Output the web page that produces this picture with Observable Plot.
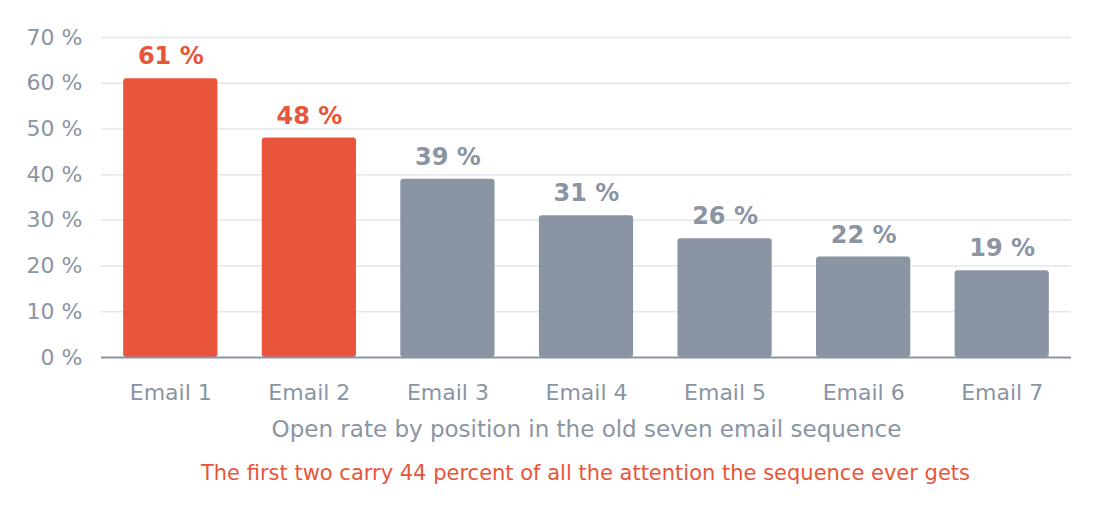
<!DOCTYPE html>
<html>
<head>
<meta charset="utf-8">
<script src="https://cdn.jsdelivr.net/npm/d3@7"></script>
<script src="https://cdn.jsdelivr.net/npm/@observablehq/plot@0.6"></script>
<style>
  html, body { margin: 0; padding: 0; background: #fff; }
  #wrap { width: 1099px; font-family: "DejaVu Sans", sans-serif; }
  #caption { text-align: center; color: #E8553A; font-size: 21px; margin-top: 11px; padding-left: 72px; }
</style>
</head>
<body>
<div id="wrap"></div>
<script>
const emails = ["Email 1", "Email 2", "Email 3", "Email 4", "Email 5", "Email 6", "Email 7"];
const openRates = [61, 48, 39, 31, 26, 22, 19];
const highlighted = [true, true, false, false, false, false, false];
const yTicks = [0, 10, 20, 30, 40, 50, 60, 70];
const xLabel = "Open rate by position in the old seven email sequence";
const captionText = "The first two carry 44 percent of all the attention the sequence ever gets";

const RED = "#E8553A", GREY = "#8A94A3";
const data = emails.map((e, i) => ({email: e, rate: openRates[i], hi: highlighted[i]}));

const chart = Plot.plot({
  width: 1099,
  height: 450,
  marginLeft: 101,
  marginRight: 28,
  marginTop: 37,
  marginBottom: 93,
  style: {fontFamily: "DejaVu Sans, sans-serif", fontSize: "22px", color: GREY, background: "#fff"},
  x: {domain: emails, paddingInner: 0.32, paddingOuter: 0.16, round: false, label: null},
  y: {domain: [0, 70], label: null},
  marks: [
    Plot.ruleY(yTicks.filter(d => d > 0), {stroke: "#E3E6EA", strokeWidth: 1.5}),
    Plot.barY(data, {x: "email", y: "rate", fill: d => d.hi ? RED : GREY, rx: 3}),
    Plot.ruleY([0], {stroke: GREY, strokeWidth: 2}),
    Plot.text(data, {x: "email", y: "rate", text: d => `${d.rate} %`, dy: -22,
      fill: d => d.hi ? RED : GREY, fontWeight: "bold", fontSize: 24}),
    Plot.axisY(yTicks, {tickSize: 0, tickPadding: 19, tickFormat: d => `${d} %`, fill: GREY, fontSize: 22, label: null}),
    Plot.axisX({tickSize: 0, tickPadding: 27, fill: GREY, fontSize: 22, label: null}),
    Plot.text([xLabel], {frameAnchor: "bottom", dy: 79, text: d => d, fill: GREY, fontSize: 23})
  ]
});
document.getElementById("wrap").appendChild(chart);
const cap = document.createElement("div");
cap.id = "caption";
cap.textContent = captionText;
document.getElementById("wrap").appendChild(cap);
</script>
</body>
</html>
